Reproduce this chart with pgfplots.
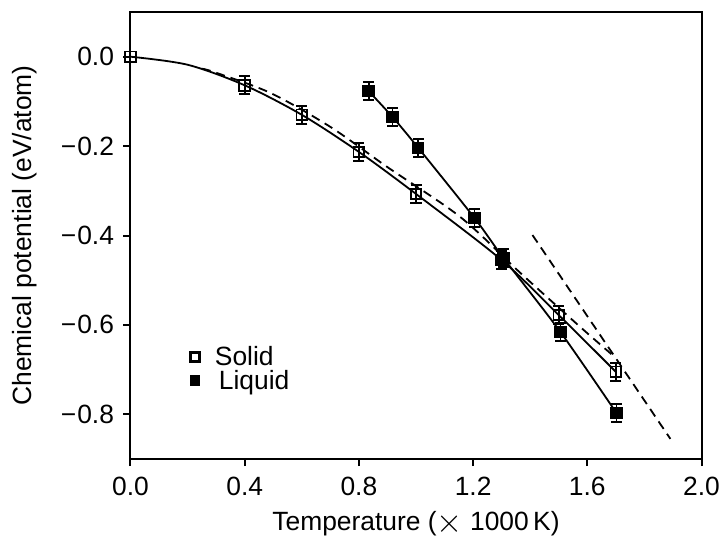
\documentclass[border=0pt]{standalone}
\usepackage{pgfplots}
\pgfplotsset{compat=1.18}
\usepackage{fontspec}
\setmainfont{Liberation Sans}

\pgfplotstableread{
x y e
0.4 -0.064 0.02
0.6 -0.130 0.02
0.8 -0.213 0.02
1.0 -0.307 0.02
1.3 -0.455 0.02
1.5 -0.578 0.02
1.7 -0.705 0.02
}\solid

\pgfplotstableread{
x y e
0.834 -0.077 0.02
0.918 -0.135 0.02
1.008 -0.204 0.02
1.205 -0.361 0.02
1.306 -0.450 0.02
1.506 -0.616 0.02
1.702 -0.797 0.02
}\liquid

\begin{document}
\begin{tikzpicture}
\begin{axis}[
  name=ax,
  scale only axis,
  width=571bp, height=447bp,
  xmin=0, xmax=2, ymin=-0.9, ymax=0.1,
  clip=false,
  xtick={0,0.4,0.8,1.2,1.6,2.0},
  xticklabels={0.0,0.4,0.8,1.2,1.6,2.0},
  ytick={-0.8,-0.6,-0.4,-0.2,0},
  yticklabels={−\kern1bp 0.8,−\kern1bp 0.6,−\kern1bp 0.4,−\kern1bp 0.2,0.0},
  tick align=outside, tick pos=left, major tick length=7bp,
  axis line style={line width=2bp},
  every tick/.style={line width=2bp, black},
  every tick label/.append style={font=\fontsize{26.5}{30}\selectfont},
  xticklabel style={yshift=-8bp},
  yticklabel style={xshift=-6bp},
  label style={font=\fontsize{26.5}{30}\selectfont},
  xlabel={Temperature (\raisebox{-2bp}{\scalebox{1.35}{$\times$}}\ 1000\,K)},
  xlabel style={at={(axis description cs:0.5,0)}, anchor=base, yshift=-71bp},
  ylabel={Chemical potential (eV/atom)},
  ylabel style={at={(axis description cs:-0.1725,0.5)}, anchor=base},
  legend style={at={(axis cs:0.197,-0.642)}, anchor=north west, draw=none, fill=none,
    font=\fontsize{26.5}{26.5}\selectfont, row sep=1bp,
    nodes={inner sep=1bp}},
  legend cell align=left,
  legend image code/.code={\draw[#1] plot coordinates {(0bp,0bp)}; \path[draw=none,fill=none] (-5bp,0bp) (19bp,0bp);},
  every axis plot/.append style={line width=1.8bp},
]
% fitted curves
\addplot[black, smooth, forget plot] coordinates {
(0,0) (0.2,-0.018) (0.4,-0.064) (0.6,-0.130) (0.8,-0.213) (1.0,-0.307) (1.3,-0.455) (1.5,-0.578) (1.7,-0.705)};
\addplot[black, smooth, forget plot] coordinates {
(0.834,-0.077) (0.918,-0.135) (1.008,-0.204) (1.205,-0.361) (1.306,-0.450) (1.506,-0.616) (1.702,-0.797)};
% dashed lines
\addplot[black, dash pattern=on 9bp off 6bp, smooth, forget plot] coordinates {
(0.25,-0.027) (0.291,-0.034) (0.49,-0.081) (0.70,-0.157) (0.90,-0.247) (1.156,-0.359) (1.366,-0.484) (1.576,-0.605) (1.70,-0.674)};
\addplot[black, dash pattern=on 9bp off 6bp, forget plot] coordinates {
(1.408,-0.399) (1.891,-0.855)};
% data
\addplot[black, only marks, mark=square, mark size=5.3bp, mark options={line width=1.8bp, solid}, forget plot] coordinates {(0,0)};
\addplot[black, only marks, mark=square, mark size=5.3bp, mark options={line width=1.8bp, solid}, forget plot,
  error bars/.cd, y dir=both, y explicit, error bar style={line width=1.8bp},
  error mark options={rotate=90, mark size=5.5bp, line width=1.8bp}]
  table[x=x, y=y, y error=e] {\solid};
\addplot[black, only marks, mark=square*, mark size=5.3bp, mark options={line width=1.8bp, solid, fill=black}, forget plot,
  error bars/.cd, y dir=both, y explicit, error bar style={line width=1.8bp},
  error mark options={rotate=90, mark size=5.5bp, line width=1.8bp}]
  table[x=x, y=y, y error=e] {\liquid};
% legend
\addlegendimage{black, only marks, mark=square, mark size=4.5bp, mark options={line width=2.4bp}}
\addlegendentry{Solid}
\addlegendimage{black, only marks, mark=square*, mark size=4.5bp, mark options={fill=black}}
\addlegendentry{\hspace{4bp}Liquid}
\end{axis}
\pgfresetboundingbox
\path[use as bounding box] (ax.south west) ++(-130.5bp,-77bp) rectangle ++(720bp,536bp);
\end{tikzpicture}
\end{document}
